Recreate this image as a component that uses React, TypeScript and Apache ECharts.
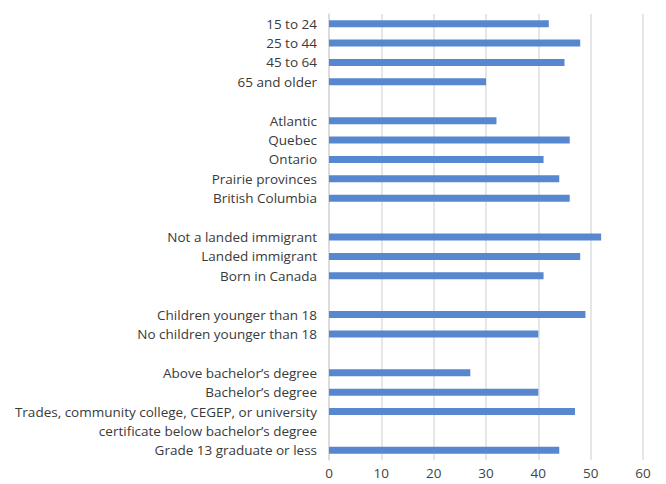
import React, { useEffect, useRef } from "react";
import * as echarts from "echarts";

const categories: string[] = [
  "15 to 24",
  "25 to 44",
  "45 to 64",
  "65 and older",
  " ",
  "Atlantic",
  "Quebec",
  "Ontario",
  "Prairie provinces",
  "British Columbia",
  "  ",
  "Not a landed immigrant",
  "Landed immigrant",
  "Born in Canada",
  "   ",
  "Children younger than 18",
  "No children younger than 18",
  "    ",
  "Above bachelor’s degree",
  "Bachelor’s degree",
  "Trades, community college, CEGEP, or university\ncertificate below bachelor’s degree",
  "     ",
  "Grade 13 graduate or less",
];

const values: (number | null)[] = [
  42, 48, 45, 30,
  null,
  32, 46, 41, 44, 46,
  null,
  52, 48, 41,
  null,
  49, 40,
  null,
  27, 40, 47,
  null,
  44,
];

const xTicks = { min: 0, max: 60, interval: 10 };

export default function App() {
  const ref = useRef<HTMLDivElement>(null);
  useEffect(() => {
    document.body.style.margin = "0";
    const chart = echarts.init(ref.current!, null, { renderer: "svg" });
    chart.setOption({
      animation: false,
      backgroundColor: "#ffffff",
      grid: { left: 329, right: 23, top: 14, bottom: 24, containLabel: false },
      xAxis: {
        type: "value",
        min: xTicks.min,
        max: xTicks.max,
        interval: xTicks.interval,
        axisLine: { show: false },
        axisTick: { show: false },
        splitLine: { show: true, lineStyle: { color: "#dedede", width: 1.5 } },
        axisLabel: {
          color: "#444444",
          fontFamily: "Open Sans",
          fontSize: 13.5,
          lineHeight: 13.5,
          margin: 6,
        },
      },
      yAxis: {
        type: "category",
        inverse: true,
        data: categories,
        axisLine: { show: true, lineStyle: { color: "#d9d9d9", width: 1.5 } },
        axisTick: { show: false },
        axisLabel: {
          color: "#3a3a3a",
          fontFamily: "Open Sans",
          fontSize: 13.5,
          margin: 12,
          align: "right",
          formatter: (v: string) =>
            v.indexOf("\n") >= 0 ? "{two|" + v + "}" : v,
          rich: {
            two: {
              color: "#3a3a3a",
              fontFamily: "Open Sans",
              fontSize: 13.5,
              lineHeight: 19,
              align: "right",
              padding: [20, 0, 0, 0],
            },
          },
        },
      },
      series: [
        {
          type: "bar",
          data: values,
          barWidth: 7,
          itemStyle: { color: "#5787cf" },
        },
      ],
    });
    return () => chart.dispose();
  }, []);
  return <div ref={ref} style={{ width: 666, height: 484 }} />;
}
